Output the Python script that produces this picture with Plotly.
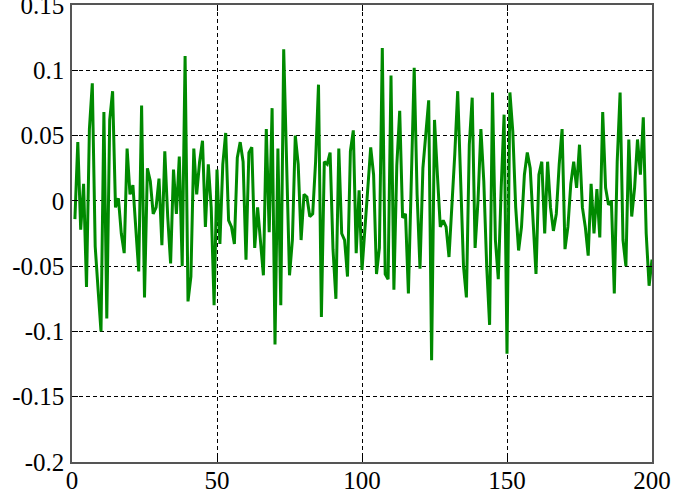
import plotly.graph_objects as go

x_values = list(range(1, 201))
y_values = [
    -0.014, 0.045, -0.022, 0.013, -0.066, 0.055, 0.09, -0.035, -0.068, -0.1,
    0.068, -0.09, 0.062, 0.084, -0.005, 0.002, -0.025, -0.04, 0.04, 0.005,
    0.012, -0.02, -0.054, 0.073, -0.074, 0.025, 0.015, -0.01, -0.005, 0.017,
    -0.034, 0.038, -0.012, -0.048, 0.024, -0.01, 0.034, -0.05, 0.111, -0.077,
    -0.058, 0.04, 0.005, 0.03, 0.046, -0.02, 0.028, -0.005, -0.08, 0.024,
    -0.033, 0.028, 0.052, -0.015, -0.02, -0.033, 0.033, 0.045, 0.03, -0.045,
    0.037, 0.041, -0.036, -0.005, -0.03, -0.057, 0.055, -0.024, 0.071, -0.11,
    0.04, -0.08, 0.116, 0.03, -0.057, -0.03, 0.05, 0.028, -0.03, 0.005,
    0.003, -0.012, -0.01, 0.03, 0.089, -0.089, 0.03, 0.028, 0.037, -0.037,
    -0.075, 0.04, -0.025, -0.03, -0.058, 0.038, 0.054, -0.04, 0.008, -0.053,
    -0.02, 0.01, 0.041, 0.02, -0.056, -0.036, 0.117, -0.056, -0.06, 0.096,
    -0.068, 0.027, 0.069, -0.013, -0.01, -0.071, 0.018, 0.102, 0.005, -0.052,
    0.025, 0.05, 0.077, -0.122, 0.062, 0.02, -0.02, -0.015, -0.02, -0.043,
    -0.005, 0.036, 0.084, 0.008, -0.05, -0.074, 0.043, 0.079, -0.036, 0.0,
    0.055, 0.015, -0.05, -0.095, 0.083, -0.03, -0.06, 0.01, 0.066, -0.117,
    0.083, 0.053, -0.005, -0.038, -0.02, 0.02, 0.037, 0.025, -0.017, -0.056,
    0.02, 0.03, -0.025, 0.03, -0.005, -0.023, -0.01, 0.028, 0.055, -0.037,
    -0.02, 0.013, 0.03, 0.01, 0.043, -0.005, -0.02, -0.042, 0.013, -0.025,
    0.009, -0.028, 0.068, 0.01, -0.003, 0.0, -0.071, 0.03, 0.083, -0.03,
    -0.05, 0.047, -0.012, 0.01, 0.047, 0.02, 0.064, -0.025, -0.065, -0.045,
]

x_ticks = [0, 50, 100, 150, 200]
x_tick_labels = ["0", "50", "100", "150", "200"]
y_ticks = [-0.2, -0.15, -0.1, -0.05, 0, 0.05, 0.1, 0.15]
y_tick_labels = ["-0.2", "-0.15", "-0.1", "-0.05", "0", "0.05", "0.1", "0.15"]

fig = go.Figure()
fig.add_trace(go.Scatter(
    x=x_values, y=y_values, mode="lines",
    line=dict(color="#008a00", width=3),
    showlegend=False,
))

axis_common = dict(
    showline=True, linecolor="#555555", linewidth=1.5, mirror="ticks",
    ticks="inside", ticklen=6, tickcolor="#000000", tickwidth=1,
    showgrid=True, gridcolor="#000000", gridwidth=1, griddash="4px,3px",
    zeroline=False, ticklabeloverflow="allow", automargin=False,
    tickfont=dict(family="Liberation Serif, Times New Roman, serif", size=25, color="#000000"),
)

fig.update_xaxes(range=[0, 200], tickvals=x_ticks, ticktext=x_tick_labels,
                 ticklabelstandoff=-5, **axis_common)
fig.update_yaxes(range=[-0.2, 0.15], tickvals=y_ticks, ticklabelstandoff=1,
                 ticktext=y_tick_labels, **axis_common)

fig.update_layout(
    width=673, height=497,
    margin=dict(l=72, r=21, t=5, b=35),
    paper_bgcolor="white", plot_bgcolor="white",
)

fig.write_html(
    "out.html",
    config={"displayModeBar": False},
    post_script="document.body.style.margin='0';document.body.style.overflow='hidden';",
)
